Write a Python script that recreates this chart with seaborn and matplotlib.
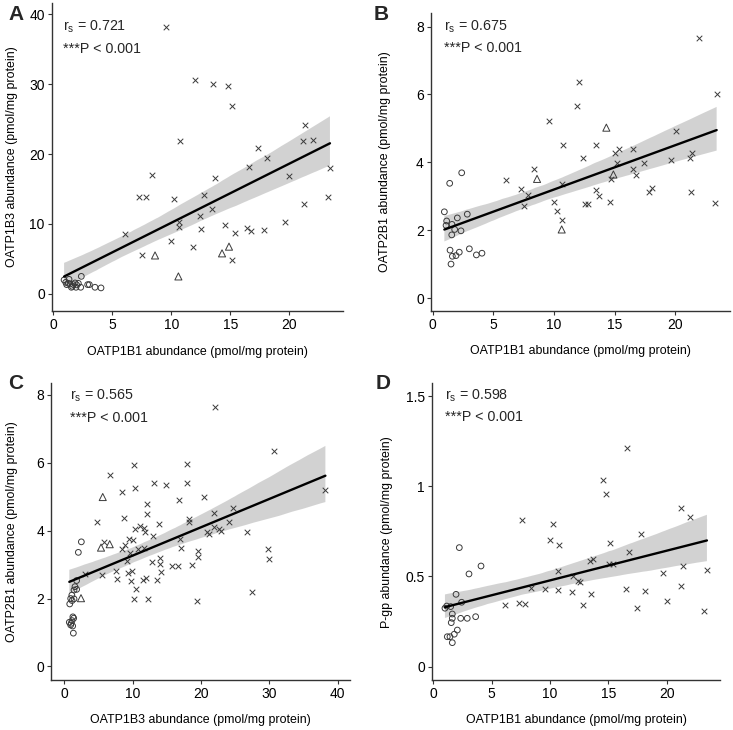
import numpy as np
import pandas as pd
import matplotlib
matplotlib.use("Agg")
import matplotlib.pyplot as plt
import seaborn as sns

sns.set_theme(style="ticks")
plt.rcParams['font.family'] = ['Liberation Sans', 'DejaVu Sans']

# ---------------- data ----------------
# Panel A: OATP1B1 (x) vs OATP1B3 (y)
A_cross_x = [9.53, 12.03, 13.5, 14.78, 15.14, 21.36, 21.2, 22.0, 10.76, 17.37, 18.1, 16.56, 23.45, 19.97, 8.34,
             13.68, 7.29, 7.86, 10.23, 12.77, 23.25, 21.25, 13.45, 12.4, 10.63, 10.68, 19.66, 14.58, 12.54, 15.37,
             16.44, 16.78, 17.83, 6.05, 9.97, 11.86, 7.54, 15.12]
A_cross_y = [38.1, 30.6, 30.0, 29.8, 26.8, 24.1, 21.9, 22.0, 21.9, 20.9, 19.5, 18.2, 18.0, 16.8, 17.0,
             16.6, 13.9, 13.9, 13.6, 14.2, 13.9, 12.9, 12.1, 11.1, 10.3, 9.6, 10.3, 9.86, 9.29, 8.76,
             9.47, 8.94, 9.14, 8.51, 7.61, 6.66, 5.57, 4.9]
A_tri_x = [8.62, 14.3, 14.89, 10.6]
A_tri_y = [5.5, 5.8, 6.76, 2.5]
A_circ_x = [0.91, 1.13, 1.33, 1.42, 1.53, 1.7, 1.84, 1.98, 2.12, 2.32, 2.37, 2.91, 3.05, 3.53, 4.04, 1.27, 1.61, 1.05, 1.92]
A_circ_y = [2.0, 1.33, 2.09, 1.43, 0.95, 1.33, 1.57, 1.29, 1.51, 0.95, 2.51, 1.33, 1.33, 0.95, 0.86, 1.51, 1.09, 1.66, 0.95]

# Panel B: OATP1B1 (x) vs OATP2B1 (y)
B_cross_x = [21.98, 12.06, 11.92, 9.56, 20.03, 10.77, 13.46, 12.39, 15.06, 15.38, 16.54, 15.17, 17.4, 19.67, 21.21,
             21.38, 16.5, 16.76, 8.35, 6.07, 10.69, 7.31, 7.88, 7.55, 13.46, 13.68, 12.53, 12.78, 14.59, 10.02,
             10.25, 10.66, 17.83, 18.1, 21.29, 14.72, 23.4, 23.3]
B_cross_y = [7.65, 6.38, 5.67, 5.22, 4.91, 4.5, 4.52, 4.14, 4.28, 4.4, 4.38, 3.98, 3.98, 4.06, 4.12,
             4.26, 3.79, 3.62, 3.79, 3.48, 3.37, 3.22, 3.03, 2.71, 3.18, 3.0, 2.78, 2.78, 2.84, 2.82,
             2.57, 2.29, 3.13, 3.23, 3.11, 3.5, 6.0, 2.8]
B_tri_x = [14.31, 14.89, 8.6, 10.63]
B_tri_y = [5.02, 3.64, 3.51, 2.02]
B_circ_x = [0.96, 1.15, 1.1, 1.4, 2.39, 1.59, 2.03, 2.85, 1.81, 1.57, 2.33, 1.43, 2.19, 1.92, 1.62, 1.51, 3.02, 3.6, 4.06]
B_circ_y = [2.54, 2.27, 2.14, 3.38, 3.69, 2.17, 2.36, 2.47, 2.02, 1.86, 1.98, 1.41, 1.35, 1.25, 1.23, 1.0, 1.45, 1.27, 1.32]

# Panel C: OATP1B3 (x) vs OATP2B1 (y)
C_cross_x = [22.0, 30.68, 38.2, 10.2, 18.0, 6.69, 13.17, 14.83, 17.9, 8.4, 10.3, 20.5, 16.83, 12.1, 24.7, 21.95,
             4.83, 8.73, 12.1, 13.86, 18.2, 18.3, 24.1, 10.34, 11.08, 11.7, 11.76, 12.98, 20.88, 21.17, 21.95,
             22.63, 22.93, 26.77, 5.85, 8.88, 9.42, 10.1, 8.49, 9.6, 10.74, 11.6, 16.97, 17.07, 9.17, 12.87,
             14.0, 14.0, 15.76, 16.63, 18.7, 19.6, 19.56, 29.85, 29.99, 3.07, 5.56, 7.61, 9.28, 9.9, 7.71,
             9.76, 11.56, 12.0, 13.6, 14.15, 10.44, 10.2, 12.3, 19.37, 27.5]
C_cross_y = [7.63, 6.36, 5.2, 5.92, 5.95, 5.65, 5.4, 5.33, 5.4, 5.13, 5.25, 5.0, 4.9, 4.78, 4.66, 4.51,
             4.25, 4.37, 4.49, 4.2, 4.34, 4.25, 4.25, 4.04, 4.13, 4.08, 3.97, 3.85, 3.97, 3.91, 4.1,
             4.05, 3.99, 3.96, 3.66, 3.59, 3.75, 3.72, 3.45, 3.35, 3.47, 3.5, 3.76, 3.48, 3.1, 3.09,
             3.2, 3.02, 2.97, 2.97, 2.98, 3.4, 3.22, 3.47, 3.15, 2.72, 2.69, 2.81, 2.75, 2.81, 2.57,
             2.51, 2.54, 2.59, 2.54, 2.78, 2.27, 1.99, 1.99, 1.93, 2.2]
C_tri_x = [5.62, 5.37, 6.64, 2.44]
C_tri_y = [4.99, 3.5, 3.6, 2.01]
C_circ_x = [2.49, 2.05, 1.8, 1.56, 1.42, 1.8, 0.93, 0.79, 1.13, 1.42, 1.37, 1.13, 0.73, 0.93, 1.22, 1.32, 1.0, 1.1, 1.25]
C_circ_y = [3.67, 3.36, 2.53, 2.35, 2.25, 2.27, 2.0, 1.84, 1.94, 1.99, 1.42, 1.35, 1.3, 1.22, 1.19, 0.98, 1.27, 2.1, 1.46]

# Panel D: OATP1B1 (x) vs P-gp (y)
D_cross_x = [16.57, 14.57, 14.8, 21.2, 22.0, 7.57, 10.28, 10.03, 10.8, 17.82, 15.14, 16.74, 13.45, 13.68, 15.08,
             15.42, 21.37, 23.45, 10.66, 19.68, 12.0, 12.4, 12.6, 8.37, 9.55, 10.66, 11.91, 13.51, 16.49, 18.14,
             21.25, 20.0, 6.12, 7.32, 7.88, 12.8, 17.43, 23.2]
D_cross_y = [1.21, 1.033, 0.957, 0.878, 0.83, 0.815, 0.793, 0.704, 0.675, 0.734, 0.686, 0.638, 0.586, 0.595, 0.569,
             0.569, 0.56, 0.538, 0.529, 0.518, 0.501, 0.475, 0.47, 0.436, 0.432, 0.425, 0.412, 0.405, 0.429, 0.42,
             0.447, 0.366, 0.342, 0.355, 0.349, 0.342, 0.325, 0.309]
D_tri_x = []
D_tri_y = []
D_circ_x = [2.23, 4.09, 3.06, 1.95, 2.43, 1.0, 1.15, 1.49, 1.63, 1.63, 1.54, 2.35, 2.91, 3.63, 2.06, 1.8, 1.2, 1.43, 1.63]
D_circ_y = [0.66, 0.558, 0.514, 0.401, 0.357, 0.324, 0.336, 0.333, 0.292, 0.268, 0.244, 0.268, 0.268, 0.277, 0.203,
            0.18, 0.166, 0.166, 0.133]

panel_letters = ["A", "B", "C", "D"]
x_titles = ["OATP1B1 abundance (pmol/mg protein)", "OATP1B1 abundance (pmol/mg protein)",
            "OATP1B3 abundance (pmol/mg protein)", "OATP1B1 abundance (pmol/mg protein)"]
y_titles = ["OATP1B3 abundance (pmol/mg protein)", "OATP2B1 abundance (pmol/mg protein)",
            "OATP2B1 abundance (pmol/mg protein)", "P-gp abundance (pmol/mg protein)"]
rs_values = ["0.721", "0.675", "0.565", "0.598"]
p_text = "***P < 0.001"
x_ticks = [[0, 5, 10, 15, 20], [0, 5, 10, 15, 20], [0, 10, 20, 30, 40], [0, 5, 10, 15, 20]]
y_ticks = [[0, 10, 20, 30, 40], [0, 2, 4, 6, 8], [0, 2, 4, 6, 8], [0, 0.5, 1, 1.5]]
y_ticklabels = [None, None, None, ["0", "0.5", "1", "1.5"]]

panels = [
    (A_cross_x, A_cross_y, A_tri_x, A_tri_y, A_circ_x, A_circ_y),
    (B_cross_x, B_cross_y, B_tri_x, B_tri_y, B_circ_x, B_circ_y),
    (C_cross_x, C_cross_y, C_tri_x, C_tri_y, C_circ_x, C_circ_y),
    (D_cross_x, D_cross_y, D_tri_x, D_tri_y, D_circ_x, D_circ_y),
]

# ---------------- layout (pixels) ----------------
W, H = 733, 730
fig = plt.figure(figsize=(W / 100, H / 100), dpi=100)

def rect(l, r, t, b):
    return [l / W, 1 - b / H, (r - l) / W, (b - t) / H]

axes_px = [(51.7, 343.3, 3, 310.7), (430.7, 730, 13.3, 310.7), (51, 350, 383.3, 680), (432, 720, 383.3, 680)]
xlims = [(-0.14, 24.58), (-0.165, 24.5), (-1.95, 41.8), (-0.11, 24.57)]
ylims = [(-2.4, 41.6), (-0.374, 8.39), (-0.40, 8.34), (-0.074, 1.571)]
letter_px = [(8, 14), (374, 14), (8, 384), (376, 384)]
text_px = [(63, 27, 49), (444, 27, 48), (70, 396, 418), (445, 396, 417)]
ylab_x = [-0.117, -0.134, -0.112, -0.137]

ink = "#3a3a3a"
for i, (cx, cy, tx, ty, ox, oy) in enumerate(panels):
    ax = fig.add_axes(rect(*axes_px[i]))
    df = pd.DataFrame({"x": cx + tx + ox, "y": cy + ty + oy})
    sns.regplot(data=df, x="x", y="y", ax=ax, scatter=False, ci=95, seed=1,
                color="black", line_kws={"lw": 1.7, "zorder": 4})
    for coll in ax.collections:
        coll.set_facecolor("#c4c4c4")
        coll.set_alpha(0.75)
        coll.set_edgecolor("none")
        coll.set_zorder(1)
    sns.scatterplot(x=cx, y=cy, ax=ax, marker="x", s=16, color=ink, linewidth=0.7, zorder=3)
    if len(tx):
        sns.scatterplot(x=tx, y=ty, ax=ax, marker="^", s=26, facecolors="none",
                        edgecolor=ink, linewidth=0.7, zorder=3)
    sns.scatterplot(x=ox, y=oy, ax=ax, marker="o", s=17, facecolors="none",
                    edgecolor=ink, linewidth=0.7, zorder=3)

    ax.set_xlim(*xlims[i])
    ax.set_ylim(*ylims[i])
    ax.set_xticks(x_ticks[i])
    ax.set_yticks(y_ticks[i])
    if y_ticklabels[i] is not None:
        ax.set_yticklabels(y_ticklabels[i])
    for s in ["top", "right"]:
        ax.spines[s].set_visible(False)
    for s in ["left", "bottom"]:
        ax.spines[s].set_color("#333333")
        ax.spines[s].set_linewidth(1.0)
    ax.tick_params(axis="both", length=3, width=0.8, color="#333333", labelsize=10,
                   labelcolor="black", pad=2)
    ax.set_xlabel(x_titles[i], fontsize=8.9, color="black")
    ax.set_ylabel(y_titles[i], fontsize=8.9, color="black")
    ax.xaxis.set_label_coords(0.5, -0.115)
    ax.yaxis.set_label_coords(ylab_x[i], 0.5)

    lx, ly = letter_px[i]
    fig.text(lx / W, 1 - ly / H, panel_letters[i], fontsize=15, fontweight="bold",
             ha="left", va="center")
    tx0, ty1, ty2 = text_px[i]
    fig.text(tx0 / W, 1 - ty1 / H, r"$\mathregular{r_s}$ = " + rs_values[i], fontsize=10.3,
             ha="left", va="center")
    fig.text(tx0 / W, 1 - ty2 / H, p_text, fontsize=10.3, ha="left", va="center")

fig.savefig("out.png", dpi=100)
